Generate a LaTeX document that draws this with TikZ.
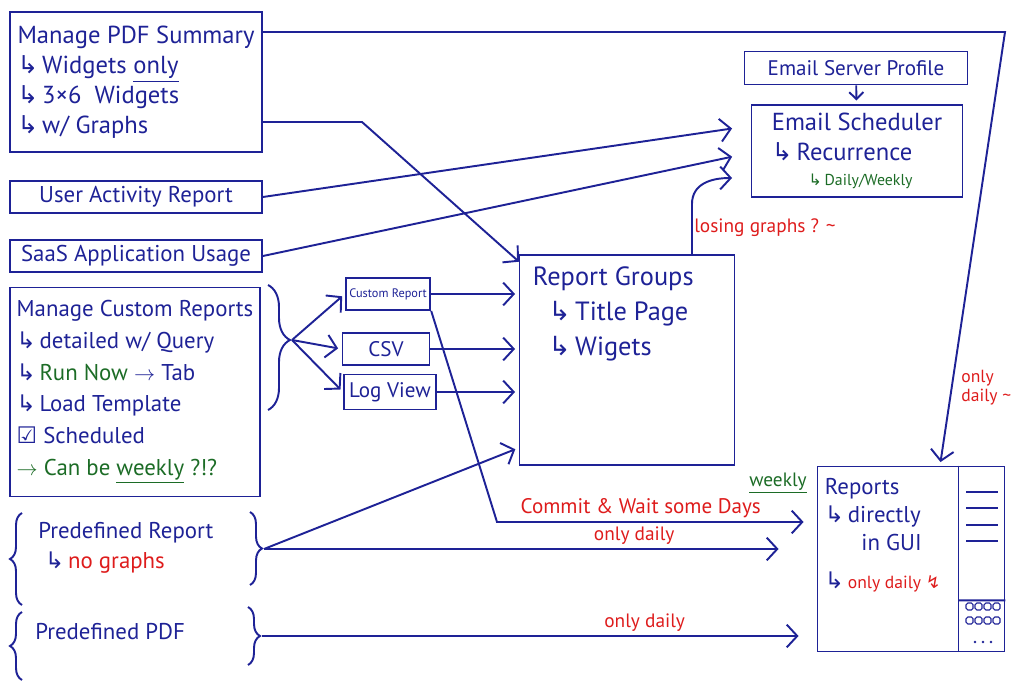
\documentclass[tikz,border=0pt]{standalone}
\usepackage{fontspec}
\setmainfont{PT Sans}
\newfontfamily\symfont{DejaVu Sans}
\usepackage{xcolor}
\usetikzlibrary{arrows.meta, positioning, decorations.pathreplacing}

\definecolor{ink}{RGB}{30,34,150}
\definecolor{redink}{RGB}{222,28,28}
\definecolor{greenink}{RGB}{28,108,38}

\newcommand{\subarr}{{\symfont ↳}\,}
\newcommand{\fsz}[2]{\fontsize{#1}{#2}\selectfont}

\begin{document}
\begin{tikzpicture}[
  x=0.02cm, y=-0.02cm,
  box/.style={rectangle, draw=ink, line width=1.1pt, text=ink, align=left, inner sep=3pt},
  txt/.style={text=ink, align=left, inner sep=0pt},
  note/.style={text=redink, inner sep=2pt, font=\fsz{11}{13}},
  arr/.style={draw=ink, line width=1.1pt, shorten >=2pt, -{Straight Barb[length=6pt, width=13pt]}},
  conn/.style={draw=ink, line width=1.1pt},
  curly/.style={draw=ink, line width=1.1pt, decorate, decoration={brace, amplitude=#1}},
  curly/.default=0.24cm,
]
\useasboundingbox (0,0) rectangle (1024,685);

% left column
\node[box, minimum width=5.04cm, minimum height=2.8cm, font=\fsz{14}{17}] (pdf) at (136,82)
  {Manage PDF Summary\\ \subarr Widgets \underline{only}\\ \subarr 3×6 \ Widgets\\ \subarr w/ Graphs};
\node[box, minimum width=5.04cm, minimum height=0.58cm, font=\fsz{13}{15}] (uar) at (136,197) {User Activity Report};
\node[box, minimum width=5.04cm, minimum height=0.64cm, font=\fsz{13}{15}] (saas) at (136,256) {SaaS Application Usage};
\node[box, minimum width=5.0cm, minimum height=4.18cm, font=\fsz{13}{18}] (mcr) at (135,392)
  {Manage Custom Reports\\ \subarr detailed w/ Query\\ \subarr \textcolor{greenink}{Run Now} $\rightarrow$ Tab\\
   \subarr Load Template\\ {\symfont ☑} Scheduled\\ \textcolor{greenink}{$\rightarrow$ Can be \underline{weekly} ?!?}};
\node[txt, anchor=north west, font=\fsz{13}{17}] (pdr) at (38,522)
  {Predefined Report\\ \hspace{0.3em}\subarr\textcolor{redink}{no graphs}};
\node[txt, anchor=west, font=\fsz{13}{16}] (ppdf) at (35,632) {Predefined PDF};

% braces
\draw[curly=0.44cm, decoration={aspect=0.44}] (268,285) -- (268,410);
\coordinate (mcrtip) at (292,340);
\draw[curly] (22,605) -- (22,513);
\draw[curly] (250,512) -- (250,585);
\coordinate (pdrtip) at (264,549);
\draw[curly] (22,680) -- (22,612);
\draw[curly] (248,607) -- (248,665);
\coordinate (ppdftip) at (262,636);

% middle
\node[box, inner sep=2pt, minimum width=1.66cm, minimum height=0.64cm, font=\fsz{7}{8}] (cr) at (388,294) {Custom Report};
\node[box, minimum width=1.74cm, minimum height=0.64cm, font=\fsz{12}{14}] (csv) at (386,349) {CSV};
\node[box, minimum width=1.68cm, minimum height=0.7cm, font=\fsz{12}{14}] (logv) at (390,392) {Log View};
\node[box, minimum width=4.3cm, minimum height=4.2cm] (rg) at (627,360) {};
\node[txt, anchor=north west, font=\fsz{15}{20}] (rgtxt) at ([shift={(14,12)}]rg.north west)
  {Report Groups\\ \hspace{0.6em}\subarr Title Page\\ \hspace{0.6em}\subarr Wigets};

% right
\node[box, minimum width=4.46cm, minimum height=0.66cm, font=\fsz{12}{14}] (esp) at (856,68) {Email Server Profile};
\node[box, minimum width=4.22cm, minimum height=1.84cm, font=\fsz{14}{17}] (esch) at (857,151)
  {Email Scheduler\\ \subarr Recurrence\\[-3pt] \hspace{1.5em}{\color{greenink}\fsz{9}{10}\subarr Daily/Weekly}};
\node[box, minimum width=3.74cm, minimum height=3.7cm] (rep) at (911,559) {};
\node[txt, anchor=north west, font=\fsz{13}{16}] (reptxt) at ([shift={(8,12)}]rep.north west)
  {Reports\\ \subarr directly\\ \hspace{1.6em}in GUI\\[6pt] \subarr\textcolor{redink}{\fsz{10}{12}only daily {\symfont ↯}}};
\draw[conn] ([xshift=-0.94cm]rep.north east) -- ([xshift=-0.94cm]rep.south east);
\draw[conn] ([shift={(-47,-52)}]rep.south east) -- ([yshift=1.04cm]rep.south east);
\foreach \y in {492,508,525,541}
  \draw[conn, line width=0.8pt] (966,\y) -- (998,\y);
\foreach \x in {966,975,984,993}
  \foreach \y in {603,617}
    \draw[ink, line width=0.6pt, rounded corners=1pt] (\x,\y) rectangle ++(7,7);
\foreach \x in {975,983,991}
  \fill[ink] (\x,642) circle (0.8pt);

% connectors
\coordinate (topturn) at (1005,32);
\draw[arr] (pdf.east |- topturn) -- (topturn) -- node[note, right=3pt, pos=0.82, align=left, font=\fsz{10}{11}] (odtop) {only\\daily \textasciitilde} ([xshift=0.58cm]rep.north);
\coordinate (pdfbend) at (362,122);
\draw[arr] (pdf.east |- pdfbend) -- (pdfbend) -- ([shift={(3,10)}]rg.north west);
\draw[arr] (uar.east) -- ([shift={(-15,-23)}]esch.west);
\draw[arr] (saas.east) -- ([shift={(-15,5)}]esch.west);
\draw[arr] ([xshift=1.3cm]rg.north) -- ++(0,-50) .. controls +(0,-20) and +(-25,0) .. ([shift={(-15,27)}]esch.west);
\node[note] (lose) at (765,228) {losing graphs ? \textasciitilde};
\draw[arr, -{Straight Barb[length=4pt, width=8pt]}] (esp) -- (esch);

\draw[arr] (mcrtip) -- (cr.west);
\draw[arr] (mcrtip) -- (csv.west);
\draw[arr] (mcrtip) -- (logv.west);
\draw[arr] (cr.east) -- (cr.east -| rg.west);
\draw[arr] (csv.east) -- (csv.east -| rg.west);
\draw[arr] (logv.east) -- (logv.east -| rg.west);

\coordinate (crbend) at (497,522);
\draw[arr, shorten >=0.26cm] (cr.south east) -- (crbend) -- node[note, above, pos=0.45, font=\fsz{12}{14}] (commit) {Commit \& Wait some Days} (crbend -| rep.west);
\node[text=greenink, font=\fsz{11}{12}] (wk) at (778,483) {\underline{weekly}};

\draw[arr] (pdrtip) -- ([yshift=0.36cm]rg.south west);
\draw[arr, shorten >=0.76cm] (pdrtip) -- node[note, above, pos=0.67] (od1) {only daily} (pdrtip -| rep.west);
\draw[arr, shorten >=0.36cm] (ppdftip) -- node[note, above, pos=0.69] (od2) {only daily} (ppdftip -| rep.west);

\end{tikzpicture}
\end{document}
